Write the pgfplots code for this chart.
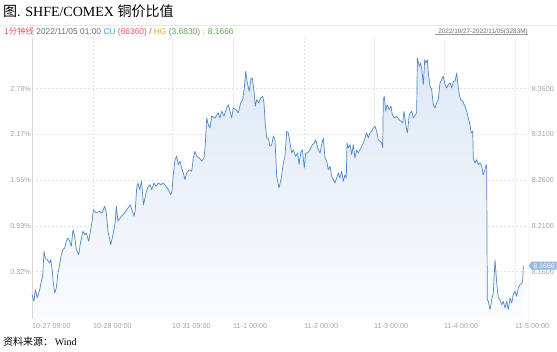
\documentclass[border=0pt]{standalone}
\usepackage{pgfplots}
\usepackage{pgfplotstable}
\pgfplotsset{compat=1.18}
\usepackage{fontspec}
\setmainfont{Liberation Serif}
\setsansfont{Liberation Sans}
\newfontfamily\cjk{Noto Sans CJK SC}
\usetikzlibrary{shapes.symbols}
\definecolor{linec}{RGB}{78,136,198}
\definecolor{fillc}{RGB}{222,232,245}
\definecolor{fillb}{RGB}{250,252,254}
\definecolor{gridc}{RGB}{226,226,226}
\definecolor{tickc}{RGB}{165,165,165}
\definecolor{tagc}{RGB}{150,186,222}
\definecolor{hred}{RGB}{232,85,95}
\definecolor{hgrey}{RGB}{110,110,110}
\definecolor{hblue}{RGB}{70,160,220}
\definecolor{horange}{RGB}{245,165,40}
\definecolor{hgreen}{RGB}{100,165,80}

\pgfplotstableread{
x y
32.0 8.1349
34.0 8.1276
35.3 8.1403
37.3 8.1313
39.7 8.1403
41.3 8.1495
42.7 8.1550
44.0 8.1823
45.3 8.1750
47.3 8.1731
49.7 8.1695
50.7 8.1731
52.0 8.1640
53.3 8.1476
54.7 8.1367
56.3 8.1422
58.0 8.1586
59.7 8.1677
61.3 8.1786
63.0 8.1840
64.7 8.1859
66.3 8.1932
68.0 8.1968
69.7 8.1932
71.3 8.1878
73.0 8.2059
74.7 8.1987
76.3 8.1840
78.7 8.1786
80.7 8.1932
83.0 8.2042
84.7 8.2004
86.3 8.2023
88.7 8.1932
90.7 8.2059
92.3 8.2168
93.3 8.2278
96.3 8.2242
99.7 8.2260
102.0 8.2242
104.7 8.2315
106.3 8.2242
108.0 8.2042
110.7 8.1895
113.0 8.2004
115.3 8.2151
116.3 8.2315
118.0 8.2151
121.3 8.2206
124.7 8.2242
128.0 8.2296
130.3 8.2332
132.3 8.2260
134.0 8.2206
135.3 8.2278
136.7 8.2515
138.0 8.2569
139.7 8.2496
141.5 8.2591
143.5 8.2329
146.0 8.2460
148.0 8.2526
150.0 8.2551
151.7 8.2496
154.0 8.2569
156.0 8.2533
158.3 8.2569
160.7 8.2551
163.3 8.2569
166.0 8.2533
168.3 8.2496
170.7 8.2442
172.0 8.2479
173.3 8.2660
175.0 8.2824
176.7 8.2861
178.3 8.2770
180.0 8.2807
181.7 8.2733
183.3 8.2679
185.0 8.2606
186.7 8.2679
189.3 8.2715
191.7 8.2697
193.3 8.2843
195.0 8.2916
196.7 8.2861
199.3 8.2843
201.7 8.2807
204.0 8.2843
205.3 8.2988
206.7 8.3280
208.3 8.3207
210.0 8.3171
211.7 8.3299
215.0 8.3280
218.3 8.3335
220.0 8.3280
221.7 8.3353
224.0 8.3299
226.0 8.3371
228.3 8.3425
230.0 8.3353
231.7 8.3280
233.3 8.3389
236.0 8.3371
238.3 8.3335
240.7 8.3444
242.7 8.3480
244.3 8.3608
245.7 8.3790
247.3 8.3663
249.3 8.3572
251.0 8.3717
252.3 8.3717
254.0 8.3572
255.3 8.3408
256.7 8.3480
258.7 8.3444
260.7 8.3499
262.7 8.3517
264.0 8.3444
265.3 8.3207
266.7 8.3061
268.3 8.3061
270.0 8.2971
271.7 8.2988
273.3 8.3080
275.0 8.3043
276.7 8.2643
279.0 8.2515
281.0 8.2606
283.3 8.2788
285.0 8.2861
286.7 8.3135
288.3 8.3116
290.0 8.3007
291.7 8.2897
293.3 8.2933
295.7 8.2861
297.7 8.2897
299.0 8.2770
301.0 8.2916
302.3 8.2933
304.3 8.2733
305.7 8.2897
307.7 8.2897
310.0 8.2933
312.3 8.2988
314.3 8.3007
315.7 8.3043
317.7 8.2952
320.0 8.2897
321.7 8.2988
323.3 8.3061
325.0 8.2843
326.7 8.2807
328.3 8.2715
330.0 8.2752
331.7 8.2643
333.3 8.2606
335.0 8.2569
336.7 8.2624
338.3 8.2679
340.0 8.2624
341.7 8.2697
343.3 8.2588
345.0 8.2660
346.3 8.2624
347.0 8.3007
348.3 8.2952
350.0 8.2988
351.7 8.2879
353.3 8.2988
355.0 8.2843
356.7 8.2933
358.3 8.2897
360.0 8.2933
361.7 8.2971
363.3 8.3007
365.0 8.3061
366.7 8.3116
368.3 8.3061
370.0 8.3116
371.7 8.3135
373.3 8.3171
375.0 8.3189
376.7 8.3135
378.3 8.3043
380.0 8.3025
381.7 8.3007
382.7 8.2952
383.3 8.3480
384.3 8.3517
385.7 8.3353
387.0 8.3425
389.0 8.3371
391.0 8.3408
392.3 8.3316
394.3 8.3280
396.7 8.3299
399.0 8.3261
401.0 8.3244
402.7 8.3225
404.0 8.3353
406.0 8.3189
407.3 8.3116
409.3 8.3316
411.7 8.3353
413.3 8.3280
415.3 8.3316
416.7 8.3335
417.3 8.3936
419.3 8.3845
420.7 8.3881
422.0 8.3790
423.3 8.3644
424.7 8.3917
426.0 8.3881
427.3 8.3917
428.7 8.3736
430.0 8.3626
431.7 8.3589
433.3 8.3425
435.0 8.3389
436.7 8.3444
438.3 8.3480
440.0 8.3663
441.7 8.3699
443.3 8.3736
445.0 8.3644
446.7 8.3608
448.3 8.3644
450.0 8.3663
451.7 8.3608
453.3 8.3681
455.0 8.3681
456.7 8.3772
457.7 8.3663
459.3 8.3535
460.7 8.3480
462.7 8.3462
465.0 8.3408
466.7 8.3353
468.3 8.3280
470.0 8.3207
471.3 8.3116
472.7 8.3135
473.3 8.2843
475.0 8.2788
476.7 8.2824
478.3 8.2770
480.0 8.2788
481.7 8.2752
483.3 8.2660
485.0 8.2715
486.0 8.2770
486.7 8.2733
487.3 8.1294
488.3 8.1276
490.0 8.1185
491.7 8.1294
493.3 8.1367
495.0 8.1731
496.7 8.1476
498.3 8.1313
500.0 8.1294
501.7 8.1239
503.3 8.1276
505.0 8.1203
506.7 8.1276
508.3 8.1185
510.0 8.1313
511.7 8.1258
513.3 8.1349
515.0 8.1386
516.7 8.1331
518.3 8.1422
520.0 8.1458
521.7 8.1476
522.7 8.1495
523.3 8.1666
}\ratio

\newcommand{\tfont}{\sffamily\fontsize{7.2}{8}\selectfont}

\begin{document}
\begin{tikzpicture}[x=1pt,y=1pt]
\useasboundingbox (0,0) rectangle (557,351);
% title
\node[anchor=west, inner sep=0pt] at (3,340) {\fontsize{14}{16}\selectfont{\cjk 图}. SHFE/COMEX {\cjk 铜价比值}};
\draw[gray!18, line width=0.6pt] (0,326) -- (557,326);
% header
\node[anchor=west, inner sep=0pt] at (4,319.5) {\sffamily\fontsize{8.4}{9}\selectfont
 {\color{hred}1{\cjk 分钟线}} {\color{hgrey}2022/11/05 01:00} {\color{hblue}CU} {\color{hred}(66360)} {\color{hgrey}/} {\color{horange}HG} {\color{hgreen}(3.6830)} {\color{hgreen}: 8.1666}};
\node[anchor=base east, inner sep=0pt, text=hgrey, font=\sffamily\fontsize{6.4}{7}\selectfont] at (528,317.6) {2022/10/27-2022/11/05(3283M)};
\draw[hgrey!70, line width=0.4pt] (434.5,316.4) -- (528,316.4);
% source
\node[anchor=west, inner sep=0pt] at (3,9) {\fontsize{10}{12}\selectfont{\cjk 资料来源：}\,Wind};

\begin{axis}[
  at={(32,35)}, anchor=south west,
  width=496pt, height=281pt, scale only axis,
  xmin=32, xmax=528, ymin=8.1083, ymax=8.4154,
  axis line style={draw=none},
  major tick length=0pt,
  xtick={32,93,172,233,304,374,444,515},
  xticklabels={10-27 09:00,10-28 00:00,10-31 09:00,11-1 00:00,11-2 00:00,11-3 00:00,11-4 00:00,11-5 00:00},
  ytick={8.16,8.21,8.26,8.31,8.36},
  yticklabels={0.32\%,0.93\%,1.55\%,2.17\%,2.78\%},
  grid=major,
  major grid style={gridc, line width=0.5pt, dash pattern=on 2pt off 2pt},
  xticklabel style={anchor=north west, inner sep=0pt, yshift=-4.5pt, font=\tfont, text=tickc},
  yticklabel style={anchor=east, inner sep=0pt, xshift=-1pt, font=\tfont, text=tickc},
]
\addplot[draw=none, top color=fillc, bottom color=fillb] table[x=x,y=y] {\ratio} -- (axis cs:523.3,8.1083) -- (axis cs:32,8.1083) -- cycle;
\draw[gridc!90!gray, line width=0.6pt] (axis cs:32,8.4154) -- (axis cs:32,8.1083) -- (axis cs:528,8.1083) -- (axis cs:528,8.4154);
\addplot[linec, line width=0.7pt, line join=round] table[x=x,y=y] {\ratio};
\coordinate (tagpt) at (axis cs:528,8.1666);
\end{axis}

\begin{axis}[
  at={(32,35)}, anchor=south west,
  width=496pt, height=281pt, scale only axis,
  xmin=32, xmax=528, ymin=8.1083, ymax=8.4154,
  axis x line=none, axis y line*=right,
  y axis line style={draw=none},
  major tick length=0pt,
  ytick={8.16,8.21,8.26,8.31,8.36},
  yticklabels={8.1600,8.2100,8.2600,8.3100,8.3600},
  yticklabel style={anchor=west, inner sep=0pt, xshift=3.7pt, font=\tfont, text=tickc},
]
\addplot[draw=none] coordinates {(32,8.2)};
\end{axis}

\node[signal, signal to=west, signal pointer angle=110, fill=tagc, text=white, inner xsep=1.8pt, inner ysep=1.6pt, anchor=west,
  font=\sffamily\fontsize{7}{8}\selectfont] at ([xshift=0.5pt]tagpt) {8.1666};
\end{tikzpicture}
\end{document}
